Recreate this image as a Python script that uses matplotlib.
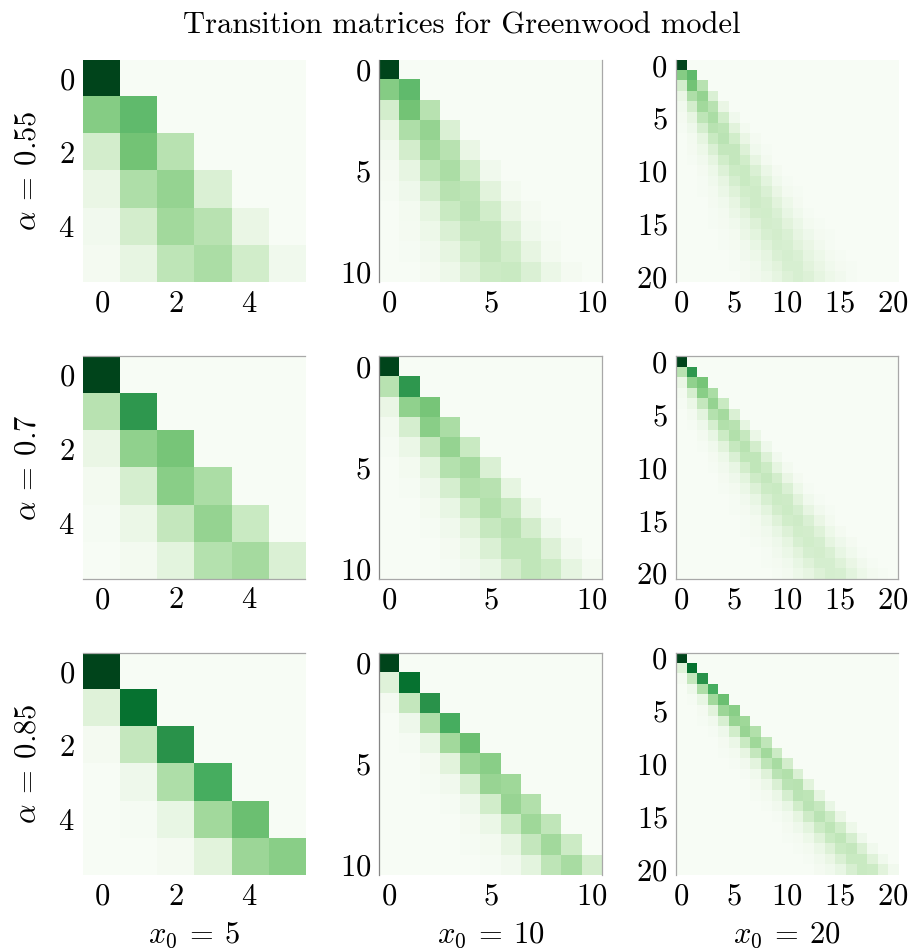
import matplotlib
matplotlib.use("Agg")
import matplotlib.pyplot as plt
import numpy as np

plt.rcParams["font.family"] = "serif"
plt.rcParams["font.serif"] = ["cmr10"]
plt.rcParams["mathtext.fontset"] = "cm"
plt.rcParams["axes.formatter.use_mathtext"] = True
plt.rcParams["font.size"] = 11

title = "Transition matrices for Greenwood model"
alphas = ["0.55", "0.7", "0.85"]
x0s = [5, 10, 20]
ticks = {5: [0, 2, 4], 10: [0, 5, 10], 20: [0, 5, 10, 15, 20]}

# transition probabilities P[n, n-k], each row read from the diagonal leftwards (k = 0, 1, ...)
rows_055 = [
    [1.0],
    [0.55, 0.45],
    [0.30, 0.50, 0.20],
    [0.17, 0.41, 0.33, 0.09],
    [0.09, 0.30, 0.37, 0.20, 0.04],
    [0.05, 0.21, 0.34, 0.28, 0.11, 0.02],
    [0.03, 0.14, 0.28, 0.30, 0.19, 0.06, 0.01],
    [0.02, 0.09, 0.21, 0.29, 0.24, 0.12, 0.03],
    [0.01, 0.05, 0.16, 0.26, 0.26, 0.17, 0.07, 0.02],
    [0.00, 0.03, 0.11, 0.21, 0.26, 0.21, 0.12, 0.04, 0.01],
    [0.00, 0.02, 0.08, 0.17, 0.24, 0.23, 0.16, 0.07, 0.02],
    [0.00, 0.01, 0.05, 0.13, 0.21, 0.24, 0.19, 0.11, 0.05, 0.01],
    [0.00, 0.01, 0.03, 0.09, 0.17, 0.22, 0.21, 0.15, 0.08, 0.03, 0.01],
    [0.00, 0.00, 0.02, 0.07, 0.14, 0.20, 0.22, 0.18, 0.11, 0.05, 0.02],
    [0.00, 0.00, 0.01, 0.05, 0.10, 0.17, 0.21, 0.20, 0.14, 0.08, 0.03, 0.01],
    [0.00, 0.00, 0.01, 0.03, 0.08, 0.14, 0.19, 0.20, 0.16, 0.10, 0.05, 0.02, 0.01],
    [0.00, 0.00, 0.01, 0.02, 0.06, 0.11, 0.17, 0.20, 0.18, 0.13, 0.08, 0.03, 0.01],
    [0.00, 0.00, 0.00, 0.01, 0.04, 0.09, 0.14, 0.18, 0.19, 0.15, 0.10, 0.05, 0.02, 0.01],
    [0.00, 0.00, 0.00, 0.01, 0.03, 0.07, 0.12, 0.17, 0.19, 0.17, 0.12, 0.07, 0.04, 0.01],
    [0.00, 0.00, 0.00, 0.01, 0.02, 0.05, 0.09, 0.14, 0.18, 0.18, 0.14, 0.10, 0.05, 0.02, 0.01],
    [0.00, 0.00, 0.00, 0.00, 0.01, 0.04, 0.07, 0.12, 0.16, 0.18, 0.16, 0.12, 0.07, 0.04, 0.02],
]
rows_07 = [
    [1.0],
    [0.70, 0.30],
    [0.49, 0.42, 0.09],
    [0.34, 0.44, 0.19, 0.03],
    [0.24, 0.41, 0.26, 0.08, 0.01],
    [0.17, 0.36, 0.31, 0.13, 0.03],
    [0.12, 0.30, 0.32, 0.19, 0.06, 0.01],
    [0.08, 0.25, 0.32, 0.23, 0.10, 0.03],
    [0.06, 0.20, 0.30, 0.25, 0.14, 0.05, 0.01],
    [0.04, 0.16, 0.27, 0.27, 0.17, 0.07, 0.02],
    [0.03, 0.12, 0.23, 0.27, 0.20, 0.10, 0.04, 0.01],
    [0.02, 0.09, 0.20, 0.26, 0.22, 0.13, 0.06, 0.02],
    [0.01, 0.07, 0.17, 0.24, 0.23, 0.16, 0.08, 0.03, 0.01],
    [0.01, 0.05, 0.14, 0.22, 0.23, 0.18, 0.10, 0.04, 0.01],
    [0.01, 0.04, 0.11, 0.19, 0.23, 0.20, 0.13, 0.06, 0.02, 0.01],
    [0.00, 0.03, 0.09, 0.17, 0.22, 0.21, 0.15, 0.08, 0.03, 0.01],
    [0.00, 0.02, 0.07, 0.15, 0.20, 0.21, 0.16, 0.10, 0.05, 0.02, 0.01],
    [0.00, 0.02, 0.06, 0.12, 0.19, 0.21, 0.18, 0.12, 0.06, 0.03, 0.01],
    [0.00, 0.01, 0.05, 0.10, 0.17, 0.20, 0.19, 0.14, 0.08, 0.04, 0.01],
    [0.00, 0.01, 0.04, 0.09, 0.15, 0.19, 0.19, 0.15, 0.10, 0.05, 0.02, 0.01],
    [0.00, 0.01, 0.03, 0.07, 0.13, 0.18, 0.19, 0.16, 0.11, 0.07, 0.03, 0.01],
]
rows_085 = [
    [1.0],
    [0.85, 0.15],
    [0.72, 0.26, 0.02],
    [0.61, 0.33, 0.06],
    [0.52, 0.37, 0.10, 0.01],
    [0.44, 0.39, 0.14, 0.02],
    [0.38, 0.40, 0.18, 0.04, 0.01],
    [0.32, 0.40, 0.21, 0.06, 0.01],
    [0.27, 0.38, 0.24, 0.08, 0.02],
    [0.23, 0.37, 0.26, 0.11, 0.03, 0.01],
    [0.20, 0.35, 0.28, 0.13, 0.04, 0.01],
    [0.17, 0.32, 0.29, 0.15, 0.05, 0.01],
    [0.14, 0.30, 0.29, 0.17, 0.07, 0.02],
    [0.12, 0.28, 0.29, 0.19, 0.08, 0.03, 0.01],
    [0.10, 0.25, 0.29, 0.21, 0.10, 0.04, 0.01],
    [0.09, 0.23, 0.29, 0.22, 0.12, 0.04, 0.01],
    [0.07, 0.21, 0.28, 0.23, 0.13, 0.06, 0.02],
    [0.06, 0.19, 0.27, 0.24, 0.15, 0.07, 0.02, 0.01],
    [0.05, 0.17, 0.26, 0.24, 0.16, 0.08, 0.03, 0.01],
    [0.05, 0.15, 0.24, 0.24, 0.17, 0.09, 0.04, 0.01],
    [0.04, 0.14, 0.23, 0.24, 0.18, 0.10, 0.05, 0.02],
]
all_rows = [rows_055, rows_07, rows_085]

# which frame lines show up on each panel in the original
spines_shown = [
    [[], ["left", "right"], ["left"]],
    [["top", "bottom"], ["top", "left", "bottom", "right"], ["top", "left", "bottom", "right"]],
    [["top"], ["left", "top", "right"], ["left", "top"]],
]


def full_matrix(rows):
    n = len(rows)
    m = np.zeros((n, n))
    for i, row in enumerate(rows):
        for k, v in enumerate(row):
            m[i, i - k] = v
    return m


fig, axes = plt.subplots(3, 3, figsize=(4.54, 4.755), dpi=200)
fig.subplots_adjust(left=83 / 908, right=898 / 908, bottom=1 - 875 / 951, top=1 - 60 / 951,
                    wspace=0.334, hspace=0.335)

for i, a in enumerate(alphas):
    mat = full_matrix(all_rows[i])
    for j, x0 in enumerate(x0s):
        ax = axes[i, j]
        ax.imshow(mat[:x0 + 1, :x0 + 1], cmap="Greens", vmin=0, vmax=1, interpolation="nearest")
        ax.set_xticks(ticks[x0])
        ax.set_yticks(ticks[x0])
        ax.tick_params(length=0, pad=3, labelsize=11)
        for side, sp in ax.spines.items():
            sp.set_visible(side in spines_shown[i][j])
            sp.set_color("#858585" if (j == 1 and side == "left") else "#a8a8a8")
            sp.set_linewidth(0.45)
        if j == 0:
            ax.set_ylabel(r"$\alpha \:=\: %s$" % a, fontsize=11, labelpad=6)
        if i == 2:
            ax.set_xlabel(r"$x_0 \:=\: %d$" % x0, fontsize=11, labelpad=3.5)

fig.text(461.7 / 908, 1 - 33 / 951, title, ha="center", va="baseline", fontsize=11)

fig.savefig("out.png", dpi=200)
